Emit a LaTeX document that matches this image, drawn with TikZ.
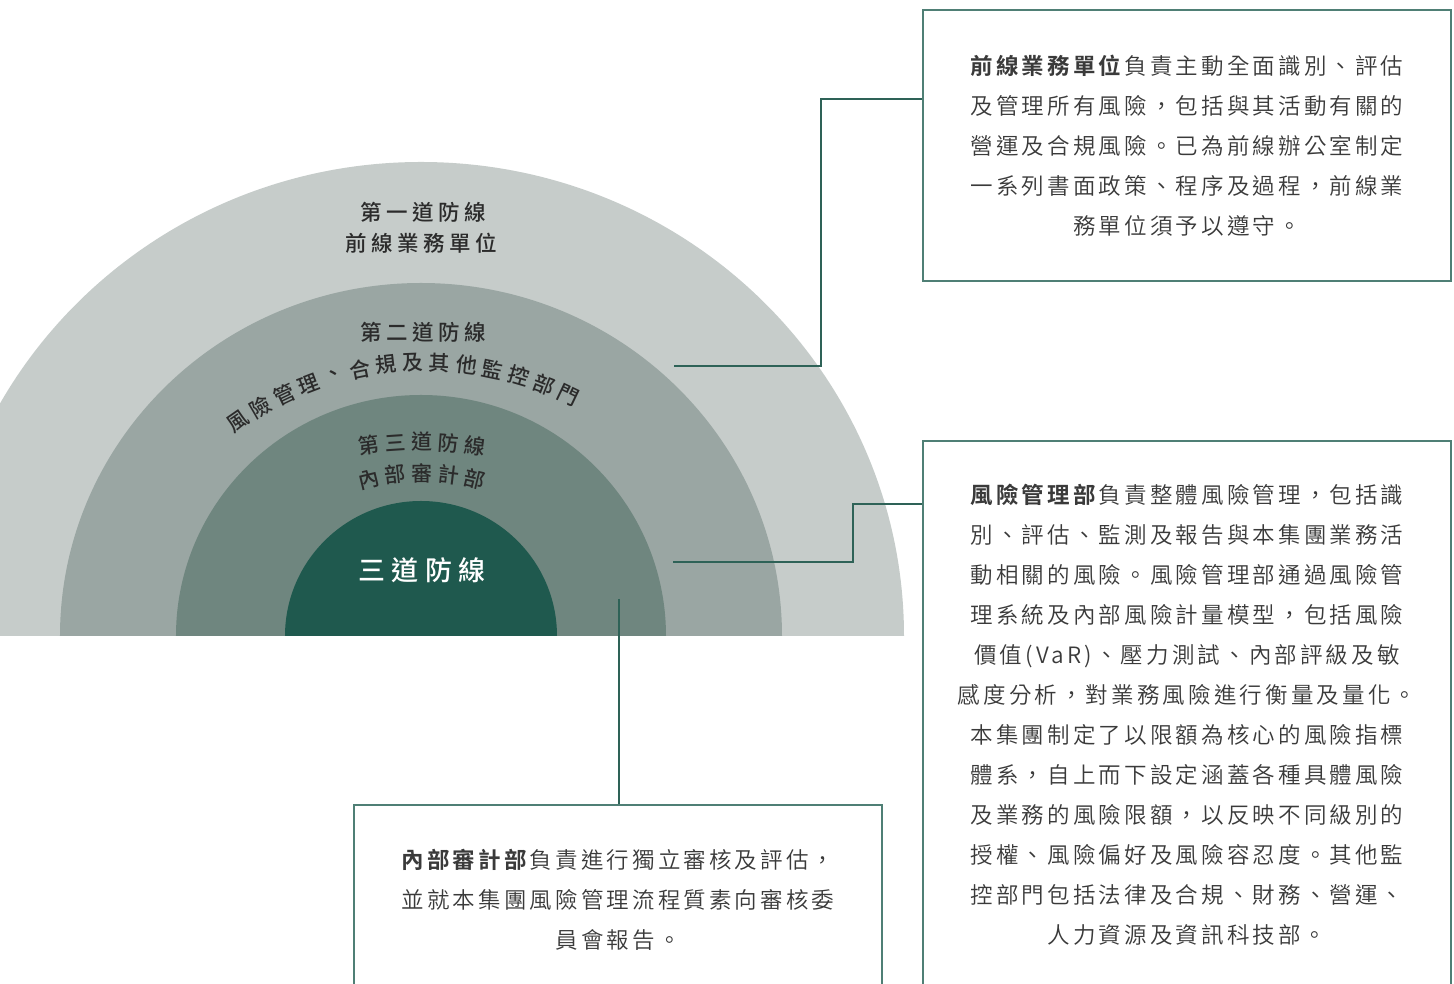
\documentclass[tikz,border=0pt]{standalone}
\usepackage{fontspec}
\setmainfont{Noto Sans CJK TC DemiLight}[BoldFont={Noto Sans CJK TC Bold},LetterSpace=14]
\newfontfamily\ringfont{Noto Sans CJK TC Medium}[LetterSpace=21]
\newfontfamily\arcfont{Noto Sans CJK TC Medium}
\newfontfamily\corefont{Noto Sans CJK TC Medium}[LetterSpace=23]

\definecolor{ringone}{HTML}{C6CCCA}
\definecolor{ringtwo}{HTML}{9AA6A3}
\definecolor{ringthree}{HTML}{6F867F}
\definecolor{ringcore}{HTML}{1F594E}
\definecolor{labelgrey}{HTML}{2B2B2B}
\definecolor{bodygrey}{HTML}{3A3A3A}
\definecolor{boxline}{HTML}{4F7F75}
\definecolor{linkgreen}{HTML}{2E6257}

\tikzset{
  ringlabel/.style={text=labelgrey,font=\ringfont\fontsize{21.5}{26}\selectfont,inner sep=0pt},
  arcchar/.style={text=labelgrey,font=\arcfont\fontsize{21}{26}\selectfont,inner sep=0pt},
  corelabel/.style={text=white,font=\corefont\fontsize{27}{32}\selectfont,inner sep=0pt},
  infobox/.style={draw=boxline,line width=1.5pt,minimum width=528pt,align=center,
    text=bodygrey,font=\fontsize{22.5}{40}\selectfont,inner sep=0pt},
  link/.style={draw=linkgreen,line width=2pt},
}

\begin{document}
\begin{tikzpicture}[x=1pt,y=1pt]
\useasboundingbox (-421,-348) rectangle (1033,636);
\clip (-421,-348) rectangle (1033,636);

% rings, outer to inner
\fill[ringone] (-483,0) arc[start angle=180,end angle=0,x radius=483,y radius=474] -- cycle;
\fill[ringtwo] (-361,0) arc[start angle=180,end angle=0,x radius=361,y radius=353] -- cycle;
\fill[ringthree] (-245,0) arc[start angle=180,end angle=0,x radius=245,y radius=241] -- cycle;
\fill[ringcore] (-136,0) arc[start angle=180,end angle=0,x radius=136,y radius=135] -- cycle;

% ring labels
\node[ringlabel] (firsttitle) at (2.5,424) {第一道防線};
\node[ringlabel] (firstunit) at (0,393) {前線業務單位};
\node[ringlabel] (secondtitle) at (2.5,304) {第二道防線};
\begin{scope}[shift={(5,-56)}]
\foreach \ch [count=\i from 0] in {風,險,管,理,、,合,規,及,其,他,監,控,部,門}
  \node[arcchar,rotate=34.8-4.65*\i] (second\i) at ({124.8-4.65*\i}:329.5) {\ch};
\end{scope}
\begin{scope}[shift={(1,-206)}]
\foreach \ch [count=\i from 0] in {第,三,道,防,線}
  \node[arcchar,rotate=7.64-3.82*\i] (third\i) at ({97.64-3.82*\i}:400) {\ch};
\end{scope}
\begin{scope}[shift={(1,-64)}]
\foreach \ch [count=\i from 0] in {內,部,審,計,部}
  \node[arcchar,rotate=13.52-6.76*\i] (audit\i) at ({103.52-6.76*\i}:227) {\ch};
\end{scope}
\node[corelabel] (core) at (1,66) {三道防線};

% text boxes
\node[infobox,minimum height=271pt] (frontbox) at (766,490.5)
  {\textbf{前線業務單位}負責主動全面識別、評估\\及管理所有風險，包括與其活動有關的\\營運及合規風險。已為前線辦公室制定\\一系列書面政策、程序及過程，前線業\\務單位須予以遵守。};
\node[infobox,minimum height=548pt] (riskbox) at (766,-79)
  {\textbf{風險管理部}負責整體風險管理，包括識\\別、評估、監測及報告與本集團業務活\\動相關的風險。風險管理部通過風險管\\理系統及內部風險計量模型，包括風險\\價值(VaR)、壓力測試、內部評級及敏\\感度分析，對業務風險進行衡量及量化。\\本集團制定了以限額為核心的風險指標\\體系，自上而下設定涵蓋各種具體風險\\及業務的風險限額，以反映不同級別的\\授權、風險偏好及風險容忍度。其他監\\控部門包括法律及合規、財務、營運、\\人力資源及資訊科技部。};
\node[infobox,minimum height=190pt] (auditbox) at (197,-264)
  {\textbf{內部審計部}負責進行獨立審核及評估，\\並就本集團風險管理流程質素向審核委\\員會報告。};

% connectors
\coordinate (frontend) at (253,270);
\coordinate (riskend) at (252,74);
\coordinate (auditend) at (198,37);
\draw[link] (frontend) -- ++(147,0) |- ([yshift=46.5pt]frontbox.west);
\draw[link] (riskend) -- ++(180,0) |- ([yshift=211pt]riskbox.west);
\draw[link] (auditend) -- (auditend |- auditbox.north);
\end{tikzpicture}
\end{document}
